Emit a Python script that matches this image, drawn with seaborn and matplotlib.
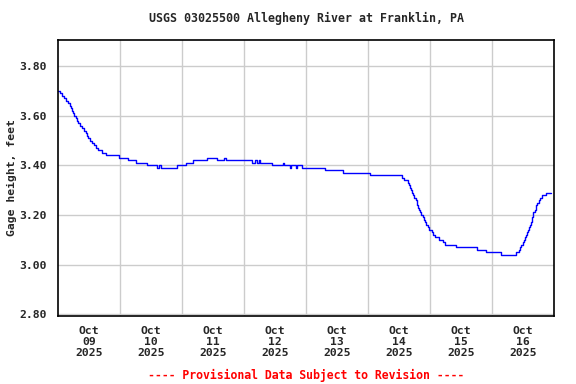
import pandas as pd
import matplotlib
matplotlib.use("Agg")
import matplotlib.pyplot as plt
import seaborn as sns

# Gage height readings (hours since Oct 09 2025 00:00, feet)
hours = [0, 0.8, 1.5, 2.3, 3.1, 3.9, 4.6, 5.0, 5.4, 5.8, 6.2, 7.0, 7.3, 7.7,
         8.5, 9.3, 10.0, 10.8, 11.2, 11.6, 12.4, 13.1, 13.9, 14.7, 15.5,
         17.0, 18.5, 23.6, 27.1, 30.1, 34.4, 38.3, 39.0, 39.8, 46.0, 49.5,
         52.2, 53.3, 57.6, 61.5, 64.2, 64.9, 75.0, 76.1, 76.9, 77.7, 78.1,
         82.7, 87.0, 87.3, 89.7, 90.1, 92.0, 92.4, 94.3, 103.2, 110.2,
         120.6, 133.3, 134.1, 135.3, 136.0, 136.4, 136.8, 137.2, 137.6,
         138.0, 138.4, 138.8, 139.1, 139.5, 139.9, 140.3, 140.7, 141.1,
         141.5, 142.2, 142.6, 143.4, 143.8, 144.6, 145.3, 146.1, 147.3,
         149.2, 150.0, 154.2, 162.3, 165.8, 171.6, 177.4, 178.6, 179.0,
         179.3, 180.1, 180.5, 180.9, 181.3, 181.7, 182.0, 182.4, 182.8,
         183.2, 183.6, 184.0, 184.7, 185.1, 185.5, 186.3, 186.7, 187.5,
         189.0, 190.9]
gage_ft = [3.70, 3.69, 3.68, 3.67, 3.66, 3.65, 3.64, 3.63, 3.62, 3.61, 3.60,
           3.59, 3.58, 3.57, 3.56, 3.55, 3.54, 3.53, 3.52, 3.51, 3.50, 3.49,
           3.48, 3.47, 3.46, 3.45, 3.44, 3.43, 3.42, 3.41, 3.40, 3.39, 3.40,
           3.39, 3.40, 3.41, 3.42, 3.42, 3.43, 3.42, 3.43, 3.42, 3.41, 3.42,
           3.41, 3.42, 3.41, 3.40, 3.41, 3.40, 3.39, 3.40, 3.39, 3.40, 3.39,
           3.38, 3.37, 3.36, 3.35, 3.34, 3.33, 3.32, 3.31, 3.30, 3.29, 3.28,
           3.27, 3.26, 3.25, 3.24, 3.23, 3.22, 3.21, 3.20, 3.19, 3.18, 3.17,
           3.16, 3.15, 3.14, 3.13, 3.12, 3.11, 3.10, 3.09, 3.08, 3.07, 3.06,
           3.05, 3.04, 3.05, 3.06, 3.07, 3.08, 3.09, 3.10, 3.11, 3.12, 3.13,
           3.14, 3.15, 3.16, 3.17, 3.19, 3.21, 3.22, 3.24, 3.25, 3.26, 3.27,
           3.28, 3.29, 3.29]

day_labels = ["Oct\n09\n2025", "Oct\n10\n2025", "Oct\n11\n2025", "Oct\n12\n2025",
              "Oct\n13\n2025", "Oct\n14\n2025", "Oct\n15\n2025", "Oct\n16\n2025"]
y_ticks = [2.80, 3.00, 3.20, 3.40, 3.60, 3.80]

df = pd.DataFrame({"hours": hours, "gage": gage_ft})

sns.set_style("white")
plt.rcParams["font.family"] = ["DejaVu Sans Mono"]
plt.rcParams["font.weight"] = "bold"

fig = plt.figure(figsize=(5.76, 3.84), dpi=100)
ax = fig.add_axes([0.1007, 0.1771, 0.8611, 0.72])

sns.lineplot(data=df, x="hours", y="gage", ax=ax, color="#0000ff",
             linewidth=1.0, drawstyle="steps-post", estimator=None)

ax.set_xlim(0, 192)
ax.set_ylim(2.793, 3.907)

# labels sit at noon, grid lines at midnight
ax.set_xticks([12 + 24 * i for i in range(len(day_labels))])
ax.set_xticklabels(day_labels, fontsize=8.2, fontweight="bold", linespacing=1.15)
ax.set_xticks([24 * i for i in range(1, 8)], minor=True)
ax.set_yticks(y_ticks)
ax.set_yticklabels([f"{v:.2f}" for v in y_ticks], fontsize=8.2, fontweight="bold")
ax.tick_params(axis="both", which="both", length=0)
ax.tick_params(axis="x", pad=7)
ax.tick_params(axis="y", pad=8)

ax.grid(True, which="minor", axis="x", color="#cccccc", linewidth=1)
ax.grid(True, which="major", axis="y", color="#cccccc", linewidth=1)
ax.grid(False, which="major", axis="x")
ax.set_axisbelow(True)
for s in ax.spines.values():
    s.set_color("black")
    s.set_linewidth(1.2)

ax.set_xlabel("")
ax.set_ylabel("Gage height, feet", fontsize=8.2, fontweight="bold")
ax.yaxis.set_label_coords(-0.083, 0.5)

fig.text(0.532, 0.951, "USGS 03025500 Allegheny River at Franklin, PA",
         ha="center", va="center", fontsize=8.4, fontweight="bold")
fig.text(0.532, 0.023, "---- Provisional Data Subject to Revision ----",
         ha="center", va="center", fontsize=8.3, fontweight="bold", color="red")

fig.savefig("out.png", dpi=100)
